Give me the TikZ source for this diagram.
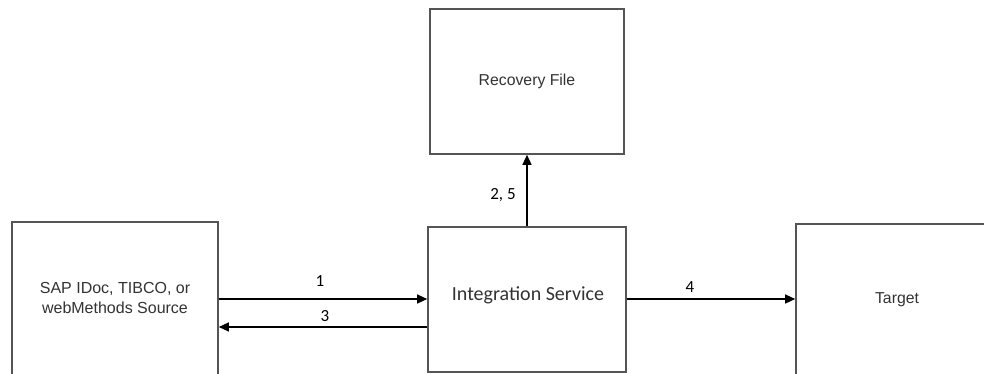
\documentclass[tikz,border=0pt]{standalone}
\usepackage{fontspec}
\setmainfont{Liberation Sans}
\newfontfamily\calibrifont{Carlito}
\usetikzlibrary{arrows.meta}
\definecolor{boxline}{HTML}{555555}
\definecolor{txt}{HTML}{333333}
\tikzset{
  box/.style={draw=boxline, line width=1.6pt, fill=white, inner sep=0pt, text=txt, align=center,
    font=\fontsize{15.8}{20}\selectfont},
  arr/.style={draw=black, line width=1.3pt, -{Triangle[length=10pt,width=9pt]}},
  lbl/.style={font=\calibrifont\fontsize{17}{20}\selectfont, text=black, inner sep=0pt}
}
\begin{document}
\begin{tikzpicture}[x=1pt,y=-1pt]
\clip (0,0) rectangle (984,374);
\fill[white] (0,0) rectangle (984,374);
% boxes
\node[box, minimum width=206pt, minimum height=156pt] (src) at (115,300) {};
\node[font=\fontsize{16}{20}\selectfont, align=center, text=txt] (srct) at (115,298) {SAP IDoc, TIBCO, or\\webMethods Source};
\node[box, minimum width=198pt, minimum height=145pt] (int) at (527,299.5) {};
\node[font=\calibrifont\fontsize{20}{22}\selectfont, text=txt] (intt) at (528,295) {Integration Service};
\node[box, minimum width=194pt, minimum height=145pt] (rec) at (527,81.5) {Recovery File};
\node[box, minimum width=202pt, minimum height=152pt] (tgt) at (897,300) {Target};
% connectors
\coordinate (y1) at (0,299);
\coordinate (y3) at (0,327);
\draw[arr] (src.east |- y1) -- (int.west |- y1);
\draw[arr] (int.west |- y3) -- (src.east |- y3);
\draw[arr] (int.east |- y1) -- (tgt.west |- y1);
\draw[arr] (int.north) -- (rec.south);
% labels
\node[lbl] (l1) at (320,281) {1};
\node[lbl] (l3) at (325,316) {3};
\node[lbl] (l25) at (503,195) {2, 5};
\node[lbl] (l4) at (690,287) {4};
\end{tikzpicture}
\end{document}
